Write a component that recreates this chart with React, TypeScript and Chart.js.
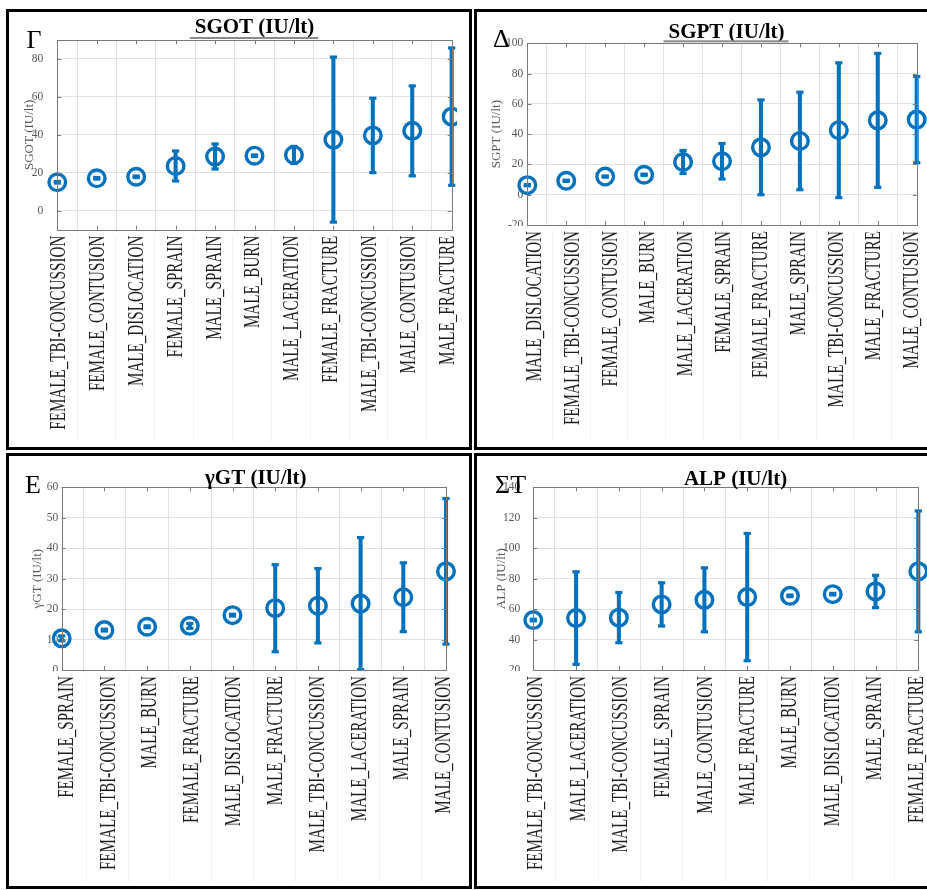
import React, { useEffect, useRef } from 'react';
import { Chart, registerables } from 'chart.js';

Chart.register(...registerables);

// ---------------- DATA ----------------
const SGOT_LABELS = ['FEMALE_TBI-CONCUSSION', 'FEMALE_CONTUSION', 'MALE_DISLOCATION', 'FEMALE_SPRAIN', 'MALE_SPRAIN', 'MALE_BURN', 'MALE_LACERATION', 'FEMALE_FRACTURE', 'MALE_TBI-CONCUSSION', 'MALE_CONTUSION', 'MALE_FRACTURE'];
const SGOT_MEAN = [15.0, 17.1, 17.9, 23.6, 28.6, 29.0, 29.4, 37.5, 39.7, 42.1, 49.6];
const SGOT_ERR = [0.4, 0.4, 0.4, 7.9, 6.6, 0.4, 4.5, 43.5, 19.6, 23.7, 36.2];
const SGOT_TICKS = [0, 20, 40, 60, 80];
const SGOT_RANGE = [-10, 90];

const SGPT_LABELS = ['MALE_DISLOCATION', 'FEMALE_TBI-CONCUSSION', 'FEMALE_CONTUSION', 'MALE_BURN', 'MALE_LACERATION', 'FEMALE_SPRAIN', 'FEMALE_FRACTURE', 'MALE_SPRAIN', 'MALE_TBI-CONCUSSION', 'MALE_FRACTURE', 'MALE_CONTUSION'];
const SGPT_MEAN = [6.3, 9.2, 12.0, 13.2, 21.6, 22.1, 31.3, 35.5, 42.6, 49.1, 49.6];
const SGPT_ERR = [0.4, 0.4, 0.4, 0.4, 7.6, 11.7, 31.3, 32.2, 44.5, 44.2, 28.5];
const SGPT_TICKS = [-20, 0, 20, 40, 60, 80, 100];
const SGPT_RANGE = [-20, 100];

const GGT_LABELS = ['FEMALE_SPRAIN', 'FEMALE_TBI-CONCUSSION', 'MALE_BURN', 'FEMALE_FRACTURE', 'MALE_DISLOCATION', 'MALE_FRACTURE', 'MALE_TBI-CONCUSSION', 'MALE_LACERATION', 'MALE_SPRAIN', 'MALE_CONTUSION'];
const GGT_MEAN = [10.4, 13.1, 14.2, 14.5, 18.0, 20.3, 21.1, 21.8, 23.9, 32.4];
const GGT_ERR = [0.8, 0.3, 0.3, 0.8, 0.3, 14.3, 12.2, 21.7, 11.3, 23.9];
const GGT_TICKS = [0, 10, 20, 30, 40, 50, 60];
const GGT_RANGE = [0, 60];

const ALP_LABELS = ['FEMALE_TBI-CONCUSSION', 'MALE_LACERATION', 'MALE_TBI-CONCUSSION', 'FEMALE_SPRAIN', 'MALE_CONTUSION', 'MALE_FRACTURE', 'MALE_BURN', 'MALE_DISLOCATION', 'MALE_SPRAIN', 'FEMALE_FRACTURE'];
const ALP_MEAN = [52.8, 54.1, 54.4, 63.1, 66.1, 67.9, 68.7, 69.8, 71.6, 84.8];
const ALP_ERR = [0.5, 30.4, 16.5, 14.2, 21.0, 41.8, 0.5, 0.5, 10.6, 39.7];
const ALP_TICKS = [20, 40, 60, 80, 100, 120, 140];
const ALP_RANGE = [20, 140];

// ---------------- STYLE / LAYOUT ----------------
const BLUE = '#0072BD';
const GRID = '#e2e2e2';
const SERIF = "'Liberation Serif', 'Times New Roman', Times, serif";
const YTITLE_SIZE = 13;

type Rect = { x: number; y: number; w: number; h: number };
type PanelProps = {
  canvas: Rect;
  area: { l: number; r: number; t: number; b: number };
  labelSpan: { a: number; b: number };
  yTitleX: number;
  tickGap: number;
  titlePos: { x: number; y: number };
  letterPos: { x: number; y: number };
  underline: boolean;
  labels: string[];
  mean: number[];
  err: number[];
  ticks: number[];
  range: number[];
  title: string;
  letter: string;
};

const decorPlugin = {
  id: 'decor',
  afterDatasetsDraw(chart: any) {
    const o = chart.options.plugins.decor;
    const { ctx, chartArea: a } = chart;
    const xs = chart.scales.x;
    const ys = chart.scales.y;
    const W = chart.width;
    const H = chart.height;
    const n = chart.data.labels.length;
    // label anchor: category pixel mapped into the (slightly narrower) label strip
    const labelX = (i: number) => {
      const f = (xs.getPixelForTick(i) - a.left) / (a.right - a.left);
      return o.labelA + f * (o.labelB - o.labelA);
    };
    ctx.save();
    // white-out below the axes (cuts lowest y tick label like the source)
    ctx.fillStyle = '#ffffff';
    ctx.fillRect(0, Math.round(a.bottom) + 1, W, H);

    // faint separators between rotated labels
    ctx.strokeStyle = '#e6e6e6';
    ctx.lineWidth = 1;
    ctx.setLineDash([1, 1]);
    for (let i = 0; i < n - 1; i++) {
      const px = Math.round((labelX(i) + labelX(i + 1)) / 2) + 0.5;
      ctx.beginPath();
      ctx.moveTo(px, a.bottom + 6);
      ctx.lineTo(px, H - 5);
      ctx.stroke();
    }
    ctx.setLineDash([]);

    // axes box
    ctx.strokeStyle = '#7a7a7a';
    ctx.lineWidth = 1;
    ctx.strokeRect(Math.round(a.left) + 0.5, Math.round(a.top) + 0.5, Math.round(a.right) - Math.round(a.left), Math.round(a.bottom) - Math.round(a.top));

    // inward tick marks
    ctx.beginPath();
    for (let i = 0; i < n; i++) {
      const px = Math.round(xs.getPixelForTick(i)) + 0.5;
      ctx.moveTo(px, a.bottom);
      ctx.lineTo(px, a.bottom - 4);
      ctx.moveTo(px, a.top);
      ctx.lineTo(px, a.top + 4);
    }
    for (const t of ys.ticks) {
      const py = Math.round(ys.getPixelForValue(t.value)) + 0.5;
      ctx.moveTo(a.left, py);
      ctx.lineTo(a.left + 4, py);
      ctx.moveTo(a.right, py);
      ctx.lineTo(a.right - 4, py);
    }
    ctx.stroke();

    // rotated, condensed category labels
    ctx.fillStyle = '#1e1e1e';
    ctx.font = `24px ${SERIF}`;
    ctx.textAlign = 'right';
    ctx.textBaseline = 'alphabetic';
    chart.data.labels.forEach((lab: string, i: number) => {
      const px = labelX(i);
      ctx.save();
      ctx.translate(px + 8, a.bottom + 6);
      ctx.rotate(-Math.PI / 2);
      ctx.scale(0.63, 1);
      ctx.fillText(lab, 0, 0);
      ctx.restore();
    });

    // title
    ctx.fillStyle = '#000';
    ctx.font = `bold 21px ${SERIF}`;
    ctx.textAlign = 'center';
    ctx.fillText(o.title, o.titleX, o.titleY);
    if (o.underline) {
      const w = ctx.measureText(o.title).width;
      ctx.fillStyle = '#8a8a8a';
      ctx.fillRect(o.titleX - w / 2 - 5, a.top - 3, w + 9, 2);
    }

    // panel letter
    ctx.fillStyle = '#000';
    ctx.font = `26px ${SERIF}`;
    ctx.textAlign = 'left';
    ctx.fillText(o.letter, o.letterX, o.letterY);
    ctx.restore();
  },
};

function ErrorPanel(p: PanelProps) {
  const ref = useRef<HTMLCanvasElement>(null);
  useEffect(() => {
    const c = p.canvas;
    const areaL = p.area.l - c.x;
    const areaR = p.area.r - c.x;
    const areaT = p.area.t - c.y;
    const areaB = p.area.b - c.y;
    const halfLine = (YTITLE_SIZE * 1.2) / 2;
    const padL = p.yTitleX - c.x - halfLine;
    const yW = areaL - padL;
    const lo = p.mean.map((m, i) => m - p.err[i]);
    const hi = p.mean.map((m, i) => m + p.err[i]);

    const chart = new Chart(ref.current as HTMLCanvasElement, {
      type: 'bar',
      data: {
        labels: p.labels,
        datasets: [
          {
            type: 'line',
            data: p.mean,
            showLine: false,
            pointStyle: 'circle',
            pointRadius: 8.3,
            pointBorderWidth: 3.4,
            pointBorderColor: BLUE,
            pointBackgroundColor: 'rgba(0,0,0,0)',
            borderColor: BLUE,
            order: 0,
            clip: false,
          } as any,
          {
            type: 'line',
            data: hi,
            showLine: false,
            pointStyle: 'line',
            pointRadius: 3.6,
            pointBorderWidth: 3.2,
            pointBorderColor: BLUE,
            borderColor: BLUE,
            order: 1,
            clip: false,
          } as any,
          {
            type: 'line',
            data: lo,
            showLine: false,
            pointStyle: 'line',
            pointRadius: 3.6,
            pointBorderWidth: 3.2,
            pointBorderColor: BLUE,
            borderColor: BLUE,
            order: 1,
            clip: false,
          } as any,
          {
            type: 'bar',
            data: lo.map((v, i) => [v, hi[i]]),
            backgroundColor: BLUE,
            borderWidth: 0,
            barThickness: 3.4,
            order: 2,
            clip: false,
          } as any,
        ],
      },
      options: {
        responsive: false,
        animation: false,
        devicePixelRatio: 1,
        events: [],
        layout: {
          autoPadding: false,
          padding: { left: padL, top: areaT, right: c.w - areaR, bottom: c.h - areaB },
        },
        plugins: {
          legend: { display: false },
          tooltip: { enabled: false },
          title: { display: false },
          decor: {
            title: p.title,
            titleX: p.titlePos.x - c.x,
            titleY: p.titlePos.y - c.y,
            underline: p.underline,
            letter: p.letter,
            letterX: p.letterPos.x - c.x,
            letterY: p.letterPos.y - c.y,
            labelA: p.labelSpan.a - c.x,
            labelB: p.labelSpan.b - c.x,
          },
        } as any,
        scales: {
          x: {
            type: 'category',
            offset: false,
            ticks: { display: false },
            grid: { color: GRID, drawTicks: false, lineWidth: 1 },
            border: { display: false },
            afterFit: (s: any) => {
              s.height = 0;
            },
          },
          y: {
            type: 'linear',
            min: p.range[0],
            max: p.range[1],
            afterBuildTicks: (s: any) => {
              s.ticks = p.ticks.map((v) => ({ value: v }));
            },
            ticks: {
              font: { family: SERIF, size: 11.5 },
              color: '#555',
              padding: p.tickGap,
            },
            grid: { color: GRID, drawTicks: false, lineWidth: 1 },
            border: { display: false },
            title: {
              display: true,
              text: p.title,
              font: { family: SERIF, size: YTITLE_SIZE },
              color: '#5a5a5a',
              padding: 0,
            },
            afterFit: (s: any) => {
              s.width = yW;
            },
          },
        },
      } as any,
      plugins: [decorPlugin],
    });
    return () => chart.destroy();
  }, []);

  return (
    <canvas
      ref={ref}
      width={p.canvas.w}
      height={p.canvas.h}
      style={{ position: 'absolute', left: p.canvas.x, top: p.canvas.y, width: p.canvas.w, height: p.canvas.h }}
    />
  );
}

const PANELS: PanelProps[] = [
  {
    canvas: { x: 9, y: 12, w: 448, h: 435 },
    area: { l: 57.3, r: 451.7, t: 40, b: 229.7 },
    labelSpan: { a: 57.2, b: 445.7 },
    yTitleX: 29.5,
    tickGap: 14,
    titlePos: { x: 254.5, y: 33.3 },
    letterPos: { x: 26.5, y: 48.3 },
    underline: true,
    labels: SGOT_LABELS,
    mean: SGOT_MEAN,
    err: SGOT_ERR,
    ticks: SGOT_TICKS,
    range: SGOT_RANGE,
    title: 'SGOT (IU/lt)',
    letter: 'Γ',
  },
  {
    canvas: { x: 477, y: 12, w: 450, h: 435 },
    area: { l: 527.3, r: 916.7, t: 43.3, b: 225 },
    labelSpan: { a: 533.3, b: 910 },
    yTitleX: 497,
    tickGap: 4,
    titlePos: { x: 726.5, y: 37.7 },
    letterPos: { x: 493, y: 46.7 },
    underline: true,
    labels: SGPT_LABELS,
    mean: SGPT_MEAN,
    err: SGPT_ERR,
    ticks: SGPT_TICKS,
    range: SGPT_RANGE,
    title: 'SGPT (IU/lt)',
    letter: 'Δ',
  },
  {
    canvas: { x: 9, y: 456, w: 460, h: 430 },
    area: { l: 61.7, r: 446, t: 487.3, b: 670 },
    labelSpan: { a: 64.7, b: 441.7 },
    yTitleX: 37.5,
    tickGap: 3.5,
    titlePos: { x: 255.7, y: 484.3 },
    letterPos: { x: 25, y: 492.7 },
    underline: false,
    labels: GGT_LABELS,
    mean: GGT_MEAN,
    err: GGT_ERR,
    ticks: GGT_TICKS,
    range: GGT_RANGE,
    title: 'γGT (IU/lt)',
    letter: 'Ε',
  },
  {
    canvas: { x: 477, y: 456, w: 450, h: 430 },
    area: { l: 533.3, r: 918.3, t: 487.3, b: 670 },
    labelSpan: { a: 534.3, b: 915.3 },
    yTitleX: 502,
    tickGap: 13,
    titlePos: { x: 735.5, y: 485 },
    letterPos: { x: 495, y: 493.3 },
    underline: false,
    labels: ALP_LABELS,
    mean: ALP_MEAN,
    err: ALP_ERR,
    ticks: ALP_TICKS,
    range: ALP_RANGE,
    title: 'ALP (IU/lt)',
    letter: 'ΣΤ',
  },
];

const BORDERS = [
  [6, 9, 466, 441],
  [474, 9, 460, 441],
  [6, 453, 466, 436],
  [474, 453, 460, 436],
];

export default function App() {
  return (
    <div style={{ position: 'absolute', left: 0, top: 0, width: 927, height: 890, background: '#fff', overflow: 'hidden' }}>
      {PANELS.map((p) => (
        <ErrorPanel key={p.title} {...p} />
      ))}
      {BORDERS.map((b, i) => (
        <div
          key={i}
          style={{
            position: 'absolute',
            left: b[0],
            top: b[1],
            width: b[2],
            height: b[3],
            border: '3px solid #000',
            boxSizing: 'border-box',
            pointerEvents: 'none',
          }}
        />
      ))}
    </div>
  );
}
